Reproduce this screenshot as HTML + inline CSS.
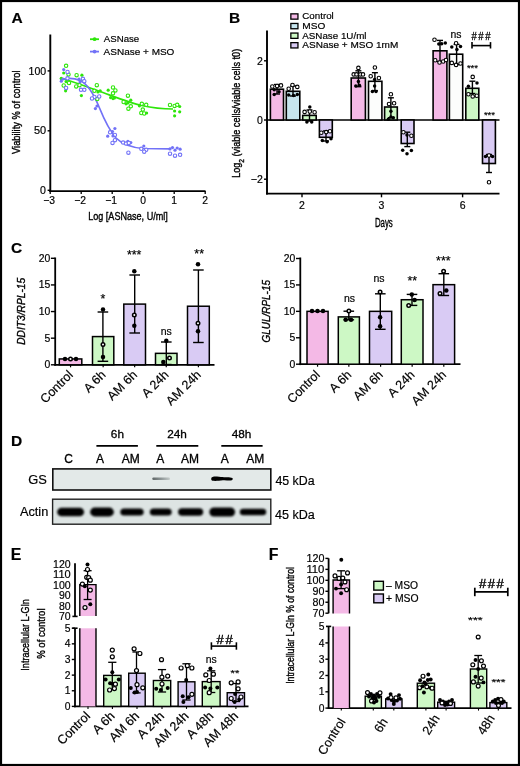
<!DOCTYPE html>
<html><head><meta charset="utf-8"><style>
html,body{margin:0;padding:0;background:#fff;}
body{width:520px;height:766px;overflow:hidden;}
svg{display:block;will-change:transform;}
text{font-family:"Liberation Sans", sans-serif;stroke:#000;stroke-width:0.18px;}
</style></head><body>
<svg width="520" height="766" viewBox="0 0 520 766">
<rect x="0" y="0" width="520" height="766" fill="#fff"/>
<text x="11.4" y="23.4" font-size="15.5" font-weight="bold">A</text>
<line x1="50.3" y1="34.5" x2="50.3" y2="192" stroke="#000" stroke-width="1.9"/>
<line x1="49.4" y1="191.1" x2="205.5" y2="191.1" stroke="#000" stroke-width="1.9"/>
<line x1="50.2" y1="191" x2="50.2" y2="194" stroke="#000" stroke-width="1.3"/>
<text x="49" y="203.8" font-size="10.3" text-anchor="middle">−3</text>
<line x1="81.2" y1="191" x2="81.2" y2="194" stroke="#000" stroke-width="1.3"/>
<text x="80" y="203.8" font-size="10.3" text-anchor="middle">−2</text>
<line x1="112.2" y1="191" x2="112.2" y2="194" stroke="#000" stroke-width="1.3"/>
<text x="111" y="203.8" font-size="10.3" text-anchor="middle">−1</text>
<line x1="143.2" y1="191" x2="143.2" y2="194" stroke="#000" stroke-width="1.3"/>
<text x="143.2" y="203.8" font-size="10.3" text-anchor="middle">0</text>
<line x1="174.2" y1="191" x2="174.2" y2="194" stroke="#000" stroke-width="1.3"/>
<text x="174.2" y="203.8" font-size="10.3" text-anchor="middle">1</text>
<line x1="205.2" y1="191" x2="205.2" y2="194" stroke="#000" stroke-width="1.3"/>
<text x="205.2" y="203.8" font-size="10.3" text-anchor="middle">2</text>
<line x1="47.6" y1="70.9" x2="50.3" y2="70.9" stroke="#000" stroke-width="1.4"/>
<text x="46.2" y="74.5" font-size="10.4" text-anchor="end" textLength="17.6" lengthAdjust="spacingAndGlyphs">100</text>
<line x1="47.6" y1="130.8" x2="50.3" y2="130.8" stroke="#000" stroke-width="1.4"/>
<text x="46.2" y="134.4" font-size="10.4" text-anchor="end" textLength="12.2" lengthAdjust="spacingAndGlyphs">50</text>
<line x1="47.6" y1="190.3" x2="50.3" y2="190.3" stroke="#000" stroke-width="1.4"/>
<text x="46" y="193.9" font-size="10.4" text-anchor="end" textLength="5.9" lengthAdjust="spacingAndGlyphs">0</text>
<text x="20" y="112.2" font-size="11.4" text-anchor="middle" textLength="83.5" lengthAdjust="spacingAndGlyphs" transform="rotate(-90 20 112.2)" style="stroke-width:0.38px">Viability % of control</text>
<text x="128" y="219.6" font-size="11.6" text-anchor="middle" textLength="79.6" lengthAdjust="spacingAndGlyphs" style="stroke-width:0.38px">Log [ASNase, U/ml]</text>
<line x1="90" y1="39.2" x2="99" y2="39.2" stroke="#2ee60a" stroke-width="1.8"/>
<circle cx="94.6" cy="39.2" r="1.9" fill="#2ee60a"/>
<line x1="90" y1="51.6" x2="99" y2="51.6" stroke="#7272f7" stroke-width="1.8"/>
<circle cx="94.6" cy="51.6" r="1.9" fill="#7272f7"/>
<text x="103.8" y="41.9" font-size="9.5" textLength="35.4" lengthAdjust="spacingAndGlyphs">ASNase</text>
<text x="103.6" y="54.5" font-size="9.5" textLength="70.8" lengthAdjust="spacingAndGlyphs">ASNase + MSO</text>
<path d="M60,78 C75,82 90,88 100,91.5 S130,103 141.5,105.5 S165,109 173,109" stroke="#2ee60a" stroke-width="1.7" fill="none"/>
<path d="M60,80 C66,78 74,78 80,80.5 C87,83.5 93,92 99.5,108 C104,119 109,130 116,138 C123,145 132,147.5 143,148.5 L170,148.9" stroke="#7272f7" stroke-width="1.7" fill="none"/>
<circle cx="66.1" cy="65.8" r="1.7" fill="#fff" stroke="#2ee60a" stroke-width="1.1"/>
<circle cx="63.7" cy="73" r="1.6" fill="#2ee60a"/>
<circle cx="68.5" cy="74.4" r="1.7" fill="#fff" stroke="#2ee60a" stroke-width="1.1"/>
<circle cx="61.3" cy="78.3" r="1.6" fill="#2ee60a"/>
<circle cx="66.1" cy="81.6" r="1.6" fill="#2ee60a"/>
<circle cx="63.7" cy="85.5" r="1.7" fill="#fff" stroke="#2ee60a" stroke-width="1.1"/>
<circle cx="65.6" cy="90.8" r="1.6" fill="#2ee60a"/>
<circle cx="69" cy="83" r="1.7" fill="#fff" stroke="#2ee60a" stroke-width="1.1"/>
<circle cx="76.6" cy="75.2" r="1.7" fill="#fff" stroke="#2ee60a" stroke-width="1.1"/>
<circle cx="81.9" cy="75.2" r="1.6" fill="#2ee60a"/>
<circle cx="76.2" cy="86.4" r="1.7" fill="#fff" stroke="#2ee60a" stroke-width="1.1"/>
<circle cx="79.5" cy="85.2" r="1.7" fill="#fff" stroke="#2ee60a" stroke-width="1.1"/>
<circle cx="81.4" cy="95.6" r="1.6" fill="#2ee60a"/>
<circle cx="83" cy="80" r="1.6" fill="#2ee60a"/>
<circle cx="96.8" cy="85.2" r="1.7" fill="#fff" stroke="#2ee60a" stroke-width="1.1"/>
<circle cx="94.4" cy="90.8" r="1.7" fill="#fff" stroke="#2ee60a" stroke-width="1.1"/>
<circle cx="100.2" cy="90.8" r="1.6" fill="#2ee60a"/>
<circle cx="97.3" cy="99" r="1.7" fill="#fff" stroke="#2ee60a" stroke-width="1.1"/>
<circle cx="98" cy="92" r="1.6" fill="#2ee60a"/>
<circle cx="108.2" cy="90.2" r="1.6" fill="#2ee60a"/>
<circle cx="113" cy="87.5" r="1.7" fill="#fff" stroke="#2ee60a" stroke-width="1.1"/>
<circle cx="115.4" cy="90.4" r="1.7" fill="#fff" stroke="#2ee60a" stroke-width="1.1"/>
<circle cx="113" cy="93.3" r="1.7" fill="#fff" stroke="#2ee60a" stroke-width="1.1"/>
<circle cx="110.6" cy="97.6" r="1.6" fill="#2ee60a"/>
<circle cx="113" cy="98.6" r="1.6" fill="#2ee60a"/>
<circle cx="114.4" cy="98" r="1.6" fill="#2ee60a"/>
<circle cx="127.9" cy="95.7" r="1.7" fill="#fff" stroke="#2ee60a" stroke-width="1.1"/>
<circle cx="130.8" cy="100.2" r="1.6" fill="#2ee60a"/>
<circle cx="123.6" cy="102" r="1.7" fill="#fff" stroke="#2ee60a" stroke-width="1.1"/>
<circle cx="126" cy="103.8" r="1.6" fill="#2ee60a"/>
<circle cx="127.9" cy="102.9" r="1.6" fill="#2ee60a"/>
<circle cx="130.8" cy="106.3" r="1.7" fill="#fff" stroke="#2ee60a" stroke-width="1.1"/>
<circle cx="128.4" cy="108.7" r="1.7" fill="#fff" stroke="#2ee60a" stroke-width="1.1"/>
<circle cx="141.8" cy="103.8" r="1.7" fill="#fff" stroke="#2ee60a" stroke-width="1.1"/>
<circle cx="146.2" cy="104.8" r="1.7" fill="#fff" stroke="#2ee60a" stroke-width="1.1"/>
<circle cx="139.4" cy="105.8" r="1.6" fill="#2ee60a"/>
<circle cx="142.8" cy="109.6" r="1.7" fill="#fff" stroke="#2ee60a" stroke-width="1.1"/>
<circle cx="141.3" cy="113" r="1.7" fill="#fff" stroke="#2ee60a" stroke-width="1.1"/>
<circle cx="144.2" cy="113.5" r="1.7" fill="#fff" stroke="#2ee60a" stroke-width="1.1"/>
<circle cx="146.6" cy="113" r="1.6" fill="#2ee60a"/>
<circle cx="170" cy="105" r="1.7" fill="#fff" stroke="#2ee60a" stroke-width="1.1"/>
<circle cx="174.6" cy="105.9" r="1.7" fill="#fff" stroke="#2ee60a" stroke-width="1.1"/>
<circle cx="177.2" cy="104.8" r="1.7" fill="#fff" stroke="#2ee60a" stroke-width="1.1"/>
<circle cx="179.7" cy="106.5" r="1.6" fill="#2ee60a"/>
<circle cx="174.6" cy="111" r="1.6" fill="#2ee60a"/>
<circle cx="179.7" cy="111.8" r="1.6" fill="#2ee60a"/>
<circle cx="174.6" cy="115.8" r="1.6" fill="#2ee60a"/>
<circle cx="63.7" cy="69.6" r="1.6" fill="#7272f7"/>
<circle cx="67.5" cy="72" r="1.7" fill="#fff" stroke="#7272f7" stroke-width="1.1"/>
<circle cx="67.5" cy="78.3" r="1.7" fill="#fff" stroke="#7272f7" stroke-width="1.1"/>
<circle cx="61.3" cy="81.2" r="1.6" fill="#7272f7"/>
<circle cx="66.1" cy="87.9" r="1.7" fill="#fff" stroke="#7272f7" stroke-width="1.1"/>
<circle cx="63" cy="79" r="1.6" fill="#7272f7"/>
<circle cx="79" cy="79.2" r="1.6" fill="#7272f7"/>
<circle cx="82.9" cy="78.8" r="1.7" fill="#fff" stroke="#7272f7" stroke-width="1.1"/>
<circle cx="84.3" cy="81.2" r="1.7" fill="#fff" stroke="#7272f7" stroke-width="1.1"/>
<circle cx="81" cy="89.8" r="1.7" fill="#fff" stroke="#7272f7" stroke-width="1.1"/>
<circle cx="84.3" cy="89.8" r="1.7" fill="#fff" stroke="#7272f7" stroke-width="1.1"/>
<circle cx="80" cy="82" r="1.6" fill="#7272f7"/>
<circle cx="94.4" cy="97" r="1.7" fill="#fff" stroke="#7272f7" stroke-width="1.1"/>
<circle cx="99.2" cy="96.5" r="1.7" fill="#fff" stroke="#7272f7" stroke-width="1.1"/>
<circle cx="92" cy="98.5" r="1.7" fill="#fff" stroke="#7272f7" stroke-width="1.1"/>
<circle cx="95.4" cy="108.6" r="1.6" fill="#7272f7"/>
<circle cx="97" cy="106" r="1.6" fill="#7272f7"/>
<circle cx="114.9" cy="128.5" r="1.6" fill="#7272f7"/>
<circle cx="110.1" cy="132.3" r="1.7" fill="#fff" stroke="#7272f7" stroke-width="1.1"/>
<circle cx="112.5" cy="131.5" r="1.6" fill="#7272f7"/>
<circle cx="114.9" cy="134.9" r="1.7" fill="#fff" stroke="#7272f7" stroke-width="1.1"/>
<circle cx="107.7" cy="136.2" r="1.6" fill="#7272f7"/>
<circle cx="113" cy="135.9" r="1.6" fill="#7272f7"/>
<circle cx="114.9" cy="140.2" r="1.7" fill="#fff" stroke="#7272f7" stroke-width="1.1"/>
<circle cx="112.5" cy="142.9" r="1.7" fill="#fff" stroke="#7272f7" stroke-width="1.1"/>
<circle cx="123.1" cy="142.6" r="1.7" fill="#fff" stroke="#7272f7" stroke-width="1.1"/>
<circle cx="127.9" cy="141.3" r="1.6" fill="#7272f7"/>
<circle cx="130.8" cy="142.6" r="1.6" fill="#7272f7"/>
<circle cx="126" cy="143.6" r="1.7" fill="#fff" stroke="#7272f7" stroke-width="1.1"/>
<circle cx="128.8" cy="143" r="1.7" fill="#fff" stroke="#7272f7" stroke-width="1.1"/>
<circle cx="128.4" cy="152.7" r="1.7" fill="#fff" stroke="#7272f7" stroke-width="1.1"/>
<circle cx="143.8" cy="146" r="1.6" fill="#7272f7"/>
<circle cx="141.3" cy="148.8" r="1.7" fill="#fff" stroke="#7272f7" stroke-width="1.1"/>
<circle cx="146.2" cy="149.8" r="1.7" fill="#fff" stroke="#7272f7" stroke-width="1.1"/>
<circle cx="144.2" cy="151.7" r="1.7" fill="#fff" stroke="#7272f7" stroke-width="1.1"/>
<circle cx="170" cy="148.9" r="1.6" fill="#7272f7"/>
<circle cx="172.5" cy="147.6" r="1.6" fill="#7272f7"/>
<circle cx="175" cy="150.2" r="1.6" fill="#7272f7"/>
<circle cx="177.2" cy="148" r="1.6" fill="#7272f7"/>
<circle cx="180.1" cy="149.2" r="1.6" fill="#7272f7"/>
<circle cx="170" cy="153.7" r="1.7" fill="#fff" stroke="#7272f7" stroke-width="1.1"/>
<circle cx="175" cy="155.7" r="1.7" fill="#fff" stroke="#7272f7" stroke-width="1.1"/>
<circle cx="180.1" cy="154.8" r="1.7" fill="#fff" stroke="#7272f7" stroke-width="1.1"/>
<text x="228.9" y="23.3" font-size="15.5" font-weight="bold">B</text>
<line x1="267" y1="30.5" x2="267" y2="194.5" stroke="#000" stroke-width="1.9"/>
<line x1="266" y1="193.6" x2="499.5" y2="193.6" stroke="#000" stroke-width="1.9"/>
<line x1="267" y1="120" x2="499.5" y2="120" stroke="#000" stroke-width="1.7"/>
<line x1="264" y1="60.8" x2="267" y2="60.8" stroke="#000" stroke-width="1.4"/>
<text x="262.8" y="64.7" font-size="10.5" text-anchor="end">2</text>
<line x1="264" y1="120" x2="267" y2="120" stroke="#000" stroke-width="1.4"/>
<text x="262.8" y="123.9" font-size="10.5" text-anchor="end">0</text>
<line x1="264" y1="179.2" x2="267" y2="179.2" stroke="#000" stroke-width="1.4"/>
<text x="262.8" y="183.1" font-size="10.5" text-anchor="end">−2</text>
<line x1="302" y1="193.6" x2="302" y2="197.3" stroke="#000" stroke-width="1.4"/>
<text x="302" y="209.1" font-size="10.5" text-anchor="middle">2</text>
<line x1="381.5" y1="193.6" x2="381.5" y2="197.3" stroke="#000" stroke-width="1.4"/>
<text x="381.5" y="209.1" font-size="10.5" text-anchor="middle">3</text>
<line x1="462.6" y1="193.6" x2="462.6" y2="197.3" stroke="#000" stroke-width="1.4"/>
<text x="462.6" y="209.1" font-size="10.5" text-anchor="middle">6</text>
<text x="383.8" y="226.7" font-size="12" text-anchor="middle" textLength="17.8" lengthAdjust="spacingAndGlyphs" style="stroke-width:0.38px">Days</text>
<text x="240" y="113.3" font-size="10.4" text-anchor="middle" transform="rotate(-90 240 113.3)" textLength="129" lengthAdjust="spacingAndGlyphs" style="stroke-width:0.38px">Log<tspan font-size="7.5" dy="4.2">2</tspan><tspan dy="-4.2"> (viable cells/viable cells t0)</tspan></text>
<rect x="290.85" y="13.85" width="7.1" height="5.3" fill="#f4b9e6" stroke="#000" stroke-width="1.3"/>
<text x="302.3" y="19.3" font-size="9.3" textLength="31.5" lengthAdjust="spacingAndGlyphs">Control</text>
<rect x="290.85" y="23.45" width="7.1" height="5.3" fill="#c7e5ee" stroke="#000" stroke-width="1.3"/>
<text x="302.3" y="28.9" font-size="9.3" textLength="23" lengthAdjust="spacingAndGlyphs">MSO</text>
<rect x="290.85" y="33.05" width="7.1" height="5.3" fill="#cdf8c5" stroke="#000" stroke-width="1.3"/>
<text x="302.3" y="38.5" font-size="9.3" textLength="64.2" lengthAdjust="spacingAndGlyphs">ASNase 1U/ml</text>
<rect x="290.85" y="42.65" width="7.1" height="5.3" fill="#d9cbf4" stroke="#000" stroke-width="1.3"/>
<text x="302.3" y="48.1" font-size="9.3" textLength="96" lengthAdjust="spacingAndGlyphs">ASNase + MSO 1mM</text>
<rect x="270.4" y="89.2" width="13.1" height="30.8" fill="#f4b9e6" stroke="#000" stroke-width="1.6"/>
<rect x="286.3" y="91.3" width="13.5" height="28.7" fill="#c7e5ee" stroke="#000" stroke-width="1.6"/>
<rect x="302.7" y="115.4" width="13.5" height="4.6" fill="#cdf8c5" stroke="#000" stroke-width="1.6"/>
<rect x="319.4" y="120" width="12.9" height="17.3" fill="#d9cbf4" stroke="#000" stroke-width="1.6"/>
<rect x="351.2" y="78" width="14.2" height="42" fill="#f4b9e6" stroke="#000" stroke-width="1.6"/>
<rect x="368.5" y="81.3" width="13.4" height="38.7" fill="#fcfdfc" stroke="#000" stroke-width="1.6"/>
<rect x="384.6" y="107" width="12.7" height="13" fill="#cdf8c5" stroke="#000" stroke-width="1.6"/>
<rect x="401.2" y="120" width="12.8" height="23.5" fill="#d9cbf4" stroke="#000" stroke-width="1.6"/>
<rect x="433.1" y="50.8" width="13.8" height="69.2" fill="#f4b9e6" stroke="#000" stroke-width="1.6"/>
<rect x="449.4" y="54.2" width="13.3" height="65.8" fill="#fcfdfc" stroke="#000" stroke-width="1.6"/>
<rect x="465.8" y="88.3" width="13" height="31.7" fill="#cdf8c5" stroke="#000" stroke-width="1.6"/>
<rect x="482.5" y="120" width="12.9" height="43.5" fill="#d9cbf4" stroke="#000" stroke-width="1.6"/>
<line x1="277" y1="84.5" x2="277" y2="94" stroke="#000" stroke-width="1.4"/>
<line x1="274" y1="84.5" x2="280" y2="84.5" stroke="#000" stroke-width="1.4"/>
<line x1="274" y1="94" x2="280" y2="94" stroke="#000" stroke-width="1.4"/>
<line x1="293" y1="86" x2="293" y2="96" stroke="#000" stroke-width="1.4"/>
<line x1="290" y1="86" x2="296" y2="86" stroke="#000" stroke-width="1.4"/>
<line x1="290" y1="96" x2="296" y2="96" stroke="#000" stroke-width="1.4"/>
<line x1="309.5" y1="110" x2="309.5" y2="121" stroke="#000" stroke-width="1.4"/>
<line x1="306.5" y1="110" x2="312.5" y2="110" stroke="#000" stroke-width="1.4"/>
<line x1="306.5" y1="121" x2="312.5" y2="121" stroke="#000" stroke-width="1.4"/>
<line x1="326" y1="131" x2="326" y2="141" stroke="#000" stroke-width="1.4"/>
<line x1="323" y1="131" x2="329" y2="131" stroke="#000" stroke-width="1.4"/>
<line x1="323" y1="141" x2="329" y2="141" stroke="#000" stroke-width="1.4"/>
<line x1="358.4" y1="70.8" x2="358.4" y2="86.7" stroke="#000" stroke-width="1.4"/>
<line x1="355.4" y1="70.8" x2="361.4" y2="70.8" stroke="#000" stroke-width="1.4"/>
<line x1="355.4" y1="86.7" x2="361.4" y2="86.7" stroke="#000" stroke-width="1.4"/>
<line x1="374.9" y1="72.7" x2="374.9" y2="90.6" stroke="#000" stroke-width="1.4"/>
<line x1="371.9" y1="72.7" x2="377.9" y2="72.7" stroke="#000" stroke-width="1.4"/>
<line x1="371.9" y1="90.6" x2="377.9" y2="90.6" stroke="#000" stroke-width="1.4"/>
<line x1="390.9" y1="97.8" x2="390.9" y2="117.7" stroke="#000" stroke-width="1.4"/>
<line x1="387.9" y1="97.8" x2="393.9" y2="97.8" stroke="#000" stroke-width="1.4"/>
<line x1="387.9" y1="117.7" x2="393.9" y2="117.7" stroke="#000" stroke-width="1.4"/>
<line x1="407.3" y1="132.2" x2="407.3" y2="146.6" stroke="#000" stroke-width="1.4"/>
<line x1="404.3" y1="132.2" x2="410.3" y2="132.2" stroke="#000" stroke-width="1.4"/>
<line x1="404.3" y1="146.6" x2="410.3" y2="146.6" stroke="#000" stroke-width="1.4"/>
<line x1="440" y1="40.4" x2="440" y2="61.5" stroke="#000" stroke-width="1.4"/>
<line x1="437" y1="40.4" x2="443" y2="40.4" stroke="#000" stroke-width="1.4"/>
<line x1="437" y1="61.5" x2="443" y2="61.5" stroke="#000" stroke-width="1.4"/>
<line x1="456.6" y1="44.4" x2="456.6" y2="64.6" stroke="#000" stroke-width="1.4"/>
<line x1="453.6" y1="44.4" x2="459.6" y2="44.4" stroke="#000" stroke-width="1.4"/>
<line x1="453.6" y1="64.6" x2="459.6" y2="64.6" stroke="#000" stroke-width="1.4"/>
<line x1="472.4" y1="81.2" x2="472.4" y2="93.5" stroke="#000" stroke-width="1.4"/>
<line x1="469.4" y1="81.2" x2="475.4" y2="81.2" stroke="#000" stroke-width="1.4"/>
<line x1="469.4" y1="93.5" x2="475.4" y2="93.5" stroke="#000" stroke-width="1.4"/>
<line x1="489" y1="154.5" x2="489" y2="172.5" stroke="#000" stroke-width="1.4"/>
<line x1="486" y1="154.5" x2="492" y2="154.5" stroke="#000" stroke-width="1.4"/>
<line x1="486" y1="172.5" x2="492" y2="172.5" stroke="#000" stroke-width="1.4"/>
<circle cx="272.3" cy="86.5" r="1.75" fill="#fff" stroke="#000" stroke-width="1.1"/>
<circle cx="277.1" cy="86" r="1.75" fill="#fff" stroke="#000" stroke-width="1.1"/>
<circle cx="281" cy="85.4" r="1.75" fill="#fff" stroke="#000" stroke-width="1.1"/>
<circle cx="274.2" cy="89.8" r="1.75" fill="#000"/>
<circle cx="279" cy="91.7" r="1.75" fill="#000"/>
<circle cx="274.2" cy="94.6" r="1.75" fill="#000"/>
<circle cx="288.7" cy="88.8" r="1.75" fill="#fff" stroke="#000" stroke-width="1.1"/>
<circle cx="292.5" cy="85" r="1.75" fill="#fff" stroke="#000" stroke-width="1.1"/>
<circle cx="297.3" cy="86.9" r="1.75" fill="#fff" stroke="#000" stroke-width="1.1"/>
<circle cx="288.7" cy="95" r="1.75" fill="#000"/>
<circle cx="293.5" cy="95.6" r="1.75" fill="#000"/>
<circle cx="297.3" cy="94.6" r="1.75" fill="#000"/>
<circle cx="304.6" cy="111.9" r="1.75" fill="#fff" stroke="#000" stroke-width="1.1"/>
<circle cx="309.8" cy="111.5" r="1.75" fill="#fff" stroke="#000" stroke-width="1.1"/>
<circle cx="314.6" cy="112.3" r="1.75" fill="#fff" stroke="#000" stroke-width="1.1"/>
<circle cx="309.8" cy="107.1" r="1.75" fill="#000"/>
<circle cx="306.9" cy="121.9" r="1.75" fill="#000"/>
<circle cx="311.7" cy="121.9" r="1.75" fill="#000"/>
<circle cx="321.3" cy="132.7" r="1.75" fill="#fff" stroke="#000" stroke-width="1.1"/>
<circle cx="326.2" cy="132.1" r="1.75" fill="#fff" stroke="#000" stroke-width="1.1"/>
<circle cx="330" cy="131.2" r="1.75" fill="#fff" stroke="#000" stroke-width="1.1"/>
<circle cx="322.3" cy="140.4" r="1.75" fill="#000"/>
<circle cx="327.1" cy="141.7" r="1.75" fill="#000"/>
<circle cx="331" cy="138.8" r="1.75" fill="#000"/>
<circle cx="358.4" cy="67.9" r="1.75" fill="#fff" stroke="#000" stroke-width="1.1"/>
<circle cx="353.7" cy="74.4" r="1.75" fill="#fff" stroke="#000" stroke-width="1.1"/>
<circle cx="356.5" cy="74.4" r="1.75" fill="#fff" stroke="#000" stroke-width="1.1"/>
<circle cx="360.4" cy="74.4" r="1.75" fill="#fff" stroke="#000" stroke-width="1.1"/>
<circle cx="363" cy="74.4" r="1.75" fill="#fff" stroke="#000" stroke-width="1.1"/>
<circle cx="358.4" cy="81.4" r="1.75" fill="#000"/>
<circle cx="355.8" cy="86" r="1.75" fill="#000"/>
<circle cx="359.4" cy="85.3" r="1.75" fill="#000"/>
<circle cx="374.9" cy="67.5" r="1.75" fill="#fff" stroke="#000" stroke-width="1.1"/>
<circle cx="370.7" cy="76.2" r="1.75" fill="#fff" stroke="#000" stroke-width="1.1"/>
<circle cx="378.9" cy="78" r="1.75" fill="#fff" stroke="#000" stroke-width="1.1"/>
<circle cx="374.6" cy="79.5" r="1.75" fill="#000"/>
<circle cx="374.6" cy="86" r="1.75" fill="#000"/>
<circle cx="372.4" cy="91.5" r="1.75" fill="#000"/>
<circle cx="376" cy="91.5" r="1.75" fill="#000"/>
<circle cx="390.9" cy="94.3" r="1.75" fill="#fff" stroke="#000" stroke-width="1.1"/>
<circle cx="389" cy="104" r="1.75" fill="#fff" stroke="#000" stroke-width="1.1"/>
<circle cx="394.1" cy="103.3" r="1.75" fill="#fff" stroke="#000" stroke-width="1.1"/>
<circle cx="390.9" cy="111.2" r="1.75" fill="#000"/>
<circle cx="390.9" cy="117" r="1.75" fill="#000"/>
<circle cx="388.3" cy="119.2" r="1.75" fill="#000"/>
<circle cx="393.3" cy="117.7" r="1.75" fill="#000"/>
<circle cx="403.4" cy="132.2" r="1.75" fill="#fff" stroke="#000" stroke-width="1.1"/>
<circle cx="411.4" cy="135.8" r="1.75" fill="#fff" stroke="#000" stroke-width="1.1"/>
<circle cx="407" cy="135" r="1.75" fill="#000"/>
<circle cx="402.7" cy="150.2" r="1.75" fill="#000"/>
<circle cx="407" cy="153.8" r="1.75" fill="#000"/>
<circle cx="411.4" cy="150.6" r="1.75" fill="#000"/>
<circle cx="434.5" cy="39.8" r="1.75" fill="#fff" stroke="#000" stroke-width="1.1"/>
<circle cx="438.8" cy="44.1" r="1.75" fill="#000"/>
<circle cx="441.7" cy="43.7" r="1.75" fill="#000"/>
<circle cx="445.3" cy="43" r="1.75" fill="#000"/>
<circle cx="435.2" cy="60.3" r="1.75" fill="#fff" stroke="#000" stroke-width="1.1"/>
<circle cx="439.5" cy="62.5" r="1.75" fill="#fff" stroke="#000" stroke-width="1.1"/>
<circle cx="443.2" cy="61.5" r="1.75" fill="#fff" stroke="#000" stroke-width="1.1"/>
<circle cx="446" cy="60" r="1.75" fill="#fff" stroke="#000" stroke-width="1.1"/>
<circle cx="456.1" cy="43.3" r="1.75" fill="#fff" stroke="#000" stroke-width="1.1"/>
<circle cx="451.8" cy="47" r="1.75" fill="#000"/>
<circle cx="460.5" cy="46.6" r="1.75" fill="#000"/>
<circle cx="456.9" cy="49.5" r="1.75" fill="#000"/>
<circle cx="451.8" cy="62.9" r="1.75" fill="#fff" stroke="#000" stroke-width="1.1"/>
<circle cx="456.1" cy="64.9" r="1.75" fill="#fff" stroke="#000" stroke-width="1.1"/>
<circle cx="460.5" cy="63.5" r="1.75" fill="#fff" stroke="#000" stroke-width="1.1"/>
<circle cx="472.7" cy="76.9" r="1.75" fill="#fff" stroke="#000" stroke-width="1.1"/>
<circle cx="468.4" cy="86.3" r="1.75" fill="#000"/>
<circle cx="477" cy="83.1" r="1.75" fill="#000"/>
<circle cx="468.4" cy="94.2" r="1.75" fill="#fff" stroke="#000" stroke-width="1.1"/>
<circle cx="472.7" cy="96.4" r="1.75" fill="#fff" stroke="#000" stroke-width="1.1"/>
<circle cx="476.8" cy="95.7" r="1.75" fill="#fff" stroke="#000" stroke-width="1.1"/>
<circle cx="485.5" cy="156.5" r="1.75" fill="#000"/>
<circle cx="489" cy="155.5" r="1.75" fill="#fff" stroke="#000" stroke-width="1.1"/>
<circle cx="492.5" cy="156.5" r="1.75" fill="#000"/>
<circle cx="489" cy="182.3" r="1.75" fill="#fff" stroke="#000" stroke-width="1.1"/>
<text x="456" y="37.7" font-size="10.5" text-anchor="middle" textLength="11" lengthAdjust="spacingAndGlyphs">ns</text>
<text x="474.1" y="39.9" font-size="11" text-anchor="middle" textLength="5.3" lengthAdjust="spacingAndGlyphs" style="stroke-width:0.3px">#</text>
<text x="480.8" y="39.9" font-size="11" text-anchor="middle" textLength="5.3" lengthAdjust="spacingAndGlyphs" style="stroke-width:0.3px">#</text>
<text x="487.9" y="39.9" font-size="11" text-anchor="middle" textLength="5.3" lengthAdjust="spacingAndGlyphs" style="stroke-width:0.3px">#</text>
<line x1="472" y1="45.6" x2="490.5" y2="45.6" stroke="#000" stroke-width="1.6"/>
<line x1="472" y1="42.1" x2="472" y2="48.5" stroke="#000" stroke-width="1.6"/>
<line x1="490.5" y1="42.1" x2="490.5" y2="48.5" stroke="#000" stroke-width="1.6"/>
<text x="472.4" y="70.5" font-size="9.5" text-anchor="middle" textLength="11" lengthAdjust="spacingAndGlyphs">***</text>
<text x="489.4" y="118" font-size="9.5" text-anchor="middle" textLength="11" lengthAdjust="spacingAndGlyphs">***</text>
<text x="10.9" y="252.8" font-size="15.5" font-weight="bold">C</text>
<line x1="55.2" y1="257.5" x2="55.2" y2="365.7" stroke="#000" stroke-width="1.8"/>
<line x1="54.3" y1="364.8" x2="214.5" y2="364.8" stroke="#000" stroke-width="1.8"/>
<line x1="50.9" y1="364.8" x2="55.2" y2="364.8" stroke="#000" stroke-width="1.4"/>
<text x="50.3" y="368.3" font-size="10.4" text-anchor="end">0</text>
<line x1="50.9" y1="338.18" x2="55.2" y2="338.18" stroke="#000" stroke-width="1.4"/>
<text x="50.3" y="341.68" font-size="10.4" text-anchor="end">5</text>
<line x1="50.9" y1="311.55" x2="55.2" y2="311.55" stroke="#000" stroke-width="1.4"/>
<text x="50.3" y="315.05" font-size="10.4" text-anchor="end">10</text>
<line x1="50.9" y1="284.93" x2="55.2" y2="284.93" stroke="#000" stroke-width="1.4"/>
<text x="50.3" y="288.43" font-size="10.4" text-anchor="end">15</text>
<line x1="50.9" y1="258.3" x2="55.2" y2="258.3" stroke="#000" stroke-width="1.4"/>
<text x="50.3" y="261.8" font-size="10.4" text-anchor="end">20</text>
<rect x="59.3" y="358.94" width="22.5" height="5.86" fill="#f4b9e6" stroke="#000" stroke-width="1.5"/>
<line x1="70.55" y1="364.8" x2="70.55" y2="367.3" stroke="#000" stroke-width="1.2"/>
<rect x="92.5" y="336.58" width="21.3" height="28.22" fill="#cdf8c5" stroke="#000" stroke-width="1.5"/>
<line x1="103.15" y1="364.8" x2="103.15" y2="367.3" stroke="#000" stroke-width="1.2"/>
<rect x="123.8" y="304.1" width="21.7" height="60.71" fill="#d9cbf4" stroke="#000" stroke-width="1.5"/>
<line x1="134.65" y1="364.8" x2="134.65" y2="367.3" stroke="#000" stroke-width="1.2"/>
<rect x="155.5" y="353.35" width="21.5" height="11.45" fill="#cdf8c5" stroke="#000" stroke-width="1.5"/>
<line x1="166.25" y1="364.8" x2="166.25" y2="367.3" stroke="#000" stroke-width="1.2"/>
<rect x="187.5" y="306.23" width="21.8" height="58.58" fill="#d9cbf4" stroke="#000" stroke-width="1.5"/>
<line x1="198.4" y1="364.8" x2="198.4" y2="367.3" stroke="#000" stroke-width="1.2"/>
<line x1="102.9" y1="312" x2="102.9" y2="361.3" stroke="#000" stroke-width="1.4"/>
<line x1="97.6" y1="312" x2="108.2" y2="312" stroke="#000" stroke-width="1.4"/>
<line x1="97.6" y1="361.3" x2="108.2" y2="361.3" stroke="#000" stroke-width="1.4"/>
<line x1="134.7" y1="275" x2="134.7" y2="333" stroke="#000" stroke-width="1.4"/>
<line x1="129.4" y1="275" x2="140" y2="275" stroke="#000" stroke-width="1.4"/>
<line x1="129.4" y1="333" x2="140" y2="333" stroke="#000" stroke-width="1.4"/>
<line x1="166.3" y1="342" x2="166.3" y2="364.5" stroke="#000" stroke-width="1.4"/>
<line x1="161" y1="342" x2="171.6" y2="342" stroke="#000" stroke-width="1.4"/>
<line x1="161" y1="364.5" x2="171.6" y2="364.5" stroke="#000" stroke-width="1.4"/>
<line x1="198.4" y1="270" x2="198.4" y2="342.5" stroke="#000" stroke-width="1.4"/>
<line x1="193.1" y1="270" x2="203.7" y2="270" stroke="#000" stroke-width="1.4"/>
<line x1="193.1" y1="342.5" x2="203.7" y2="342.5" stroke="#000" stroke-width="1.4"/>
<circle cx="65" cy="359" r="2.25" fill="#000"/>
<circle cx="70.5" cy="359" r="1.75" fill="#fff" stroke="#000" stroke-width="1.5"/>
<circle cx="76" cy="359" r="2.25" fill="#000"/>
<circle cx="103" cy="309.5" r="2.25" fill="#000"/>
<circle cx="103" cy="344.5" r="1.75" fill="#fff" stroke="#000" stroke-width="1.5"/>
<circle cx="103" cy="357" r="2.25" fill="#000"/>
<circle cx="134.3" cy="271.3" r="2.25" fill="#000"/>
<circle cx="134.3" cy="315" r="1.75" fill="#fff" stroke="#000" stroke-width="1.5"/>
<circle cx="134.3" cy="325.8" r="2.25" fill="#000"/>
<circle cx="166.3" cy="340.8" r="2.25" fill="#000"/>
<circle cx="163.3" cy="362" r="2.25" fill="#000"/>
<circle cx="169.5" cy="358" r="1.75" fill="#fff" stroke="#000" stroke-width="1.5"/>
<circle cx="198" cy="264.3" r="2.25" fill="#000"/>
<circle cx="198" cy="323.3" r="1.75" fill="#fff" stroke="#000" stroke-width="1.5"/>
<circle cx="198" cy="331.3" r="2.25" fill="#000"/>
<text x="73.75" y="375.5" font-size="12.5" text-anchor="end" transform="rotate(-45 73.75 375.5)">Control</text>
<text x="106.35" y="375.5" font-size="12.5" text-anchor="end" transform="rotate(-45 106.35 375.5)">A 6h</text>
<text x="137.85" y="375.5" font-size="12.5" text-anchor="end" transform="rotate(-45 137.85 375.5)">AM 6h</text>
<text x="169.45" y="375.5" font-size="12.5" text-anchor="end" transform="rotate(-45 169.45 375.5)">A 24h</text>
<text x="201.6" y="375.5" font-size="12.5" text-anchor="end" transform="rotate(-45 201.6 375.5)">AM 24h</text>
<text x="25.3" y="311.3" font-size="11.8" text-anchor="middle" font-style="italic" textLength="67" lengthAdjust="spacingAndGlyphs" transform="rotate(-90 25.3 311.3)" style="stroke-width:0.38px">DDIT3/RPL-15</text>
<text x="103" y="302.5" font-size="12.4" text-anchor="middle">*</text>
<text x="134.2" y="258.6" font-size="12.4" text-anchor="middle">***</text>
<text x="166.3" y="334.5" font-size="10.5" text-anchor="middle">ns</text>
<text x="199.2" y="258" font-size="12.4" text-anchor="middle">**</text>
<line x1="300.3" y1="257.5" x2="300.3" y2="365.1" stroke="#000" stroke-width="1.8"/>
<line x1="299.4" y1="364.2" x2="460.5" y2="364.2" stroke="#000" stroke-width="1.8"/>
<line x1="296" y1="364.2" x2="300.3" y2="364.2" stroke="#000" stroke-width="1.4"/>
<text x="295.4" y="367.7" font-size="10.4" text-anchor="end">0</text>
<line x1="296" y1="337.77" x2="300.3" y2="337.77" stroke="#000" stroke-width="1.4"/>
<text x="295.4" y="341.27" font-size="10.4" text-anchor="end">5</text>
<line x1="296" y1="311.35" x2="300.3" y2="311.35" stroke="#000" stroke-width="1.4"/>
<text x="295.4" y="314.85" font-size="10.4" text-anchor="end">10</text>
<line x1="296" y1="284.93" x2="300.3" y2="284.93" stroke="#000" stroke-width="1.4"/>
<text x="295.4" y="288.43" font-size="10.4" text-anchor="end">15</text>
<line x1="296" y1="258.5" x2="300.3" y2="258.5" stroke="#000" stroke-width="1.4"/>
<text x="295.4" y="262" font-size="10.4" text-anchor="end">20</text>
<rect x="307" y="311.35" width="21.1" height="52.85" fill="#f4b9e6" stroke="#000" stroke-width="1.5"/>
<line x1="317.55" y1="364.2" x2="317.55" y2="366.7" stroke="#000" stroke-width="1.2"/>
<rect x="338.3" y="316.9" width="21.1" height="47.3" fill="#cdf8c5" stroke="#000" stroke-width="1.5"/>
<line x1="348.85" y1="364.2" x2="348.85" y2="366.7" stroke="#000" stroke-width="1.2"/>
<rect x="369.5" y="311.35" width="22.2" height="52.85" fill="#d9cbf4" stroke="#000" stroke-width="1.5"/>
<line x1="380.6" y1="364.2" x2="380.6" y2="366.7" stroke="#000" stroke-width="1.2"/>
<rect x="401.3" y="299.72" width="21.7" height="64.48" fill="#cdf8c5" stroke="#000" stroke-width="1.5"/>
<line x1="412.15" y1="364.2" x2="412.15" y2="366.7" stroke="#000" stroke-width="1.2"/>
<rect x="433" y="284.66" width="21.6" height="79.54" fill="#d9cbf4" stroke="#000" stroke-width="1.5"/>
<line x1="443.8" y1="364.2" x2="443.8" y2="366.7" stroke="#000" stroke-width="1.2"/>
<line x1="348.8" y1="311.2" x2="348.8" y2="319.8" stroke="#000" stroke-width="1.4"/>
<line x1="343.5" y1="311.2" x2="354.1" y2="311.2" stroke="#000" stroke-width="1.4"/>
<line x1="343.5" y1="319.8" x2="354.1" y2="319.8" stroke="#000" stroke-width="1.4"/>
<line x1="380.3" y1="293.8" x2="380.3" y2="329.3" stroke="#000" stroke-width="1.4"/>
<line x1="375" y1="293.8" x2="385.6" y2="293.8" stroke="#000" stroke-width="1.4"/>
<line x1="375" y1="329.3" x2="385.6" y2="329.3" stroke="#000" stroke-width="1.4"/>
<line x1="412" y1="294.4" x2="412" y2="305.4" stroke="#000" stroke-width="1.4"/>
<line x1="406.7" y1="294.4" x2="417.3" y2="294.4" stroke="#000" stroke-width="1.4"/>
<line x1="406.7" y1="305.4" x2="417.3" y2="305.4" stroke="#000" stroke-width="1.4"/>
<line x1="443.8" y1="273.7" x2="443.8" y2="295.5" stroke="#000" stroke-width="1.4"/>
<line x1="438.5" y1="273.7" x2="449.1" y2="273.7" stroke="#000" stroke-width="1.4"/>
<line x1="438.5" y1="295.5" x2="449.1" y2="295.5" stroke="#000" stroke-width="1.4"/>
<circle cx="312" cy="311" r="2.25" fill="#000"/>
<circle cx="317.5" cy="311" r="2.25" fill="#000"/>
<circle cx="323" cy="311" r="2.25" fill="#000"/>
<circle cx="348.9" cy="310.9" r="1.75" fill="#fff" stroke="#000" stroke-width="1.5"/>
<circle cx="345.7" cy="319.8" r="2.25" fill="#000"/>
<circle cx="351" cy="319.8" r="2.25" fill="#000"/>
<circle cx="380.1" cy="291.9" r="1.75" fill="#fff" stroke="#000" stroke-width="1.5"/>
<circle cx="380.1" cy="317.3" r="2.25" fill="#000"/>
<circle cx="380.1" cy="326.2" r="2.25" fill="#000"/>
<circle cx="411.8" cy="294.4" r="2.25" fill="#000"/>
<circle cx="414.6" cy="300.1" r="2.25" fill="#000"/>
<circle cx="408.7" cy="305.4" r="1.75" fill="#fff" stroke="#000" stroke-width="1.5"/>
<circle cx="443.6" cy="271.2" r="1.75" fill="#fff" stroke="#000" stroke-width="1.5"/>
<circle cx="446.3" cy="290.6" r="2.25" fill="#000"/>
<circle cx="440" cy="293.4" r="1.75" fill="#fff" stroke="#000" stroke-width="1.5"/>
<text x="320.75" y="375.5" font-size="12.5" text-anchor="end" transform="rotate(-45 320.75 375.5)">Control</text>
<text x="352.05" y="375.5" font-size="12.5" text-anchor="end" transform="rotate(-45 352.05 375.5)">A 6h</text>
<text x="383.8" y="375.5" font-size="12.5" text-anchor="end" transform="rotate(-45 383.8 375.5)">AM 6h</text>
<text x="415.35" y="375.5" font-size="12.5" text-anchor="end" transform="rotate(-45 415.35 375.5)">A 24h</text>
<text x="447" y="375.5" font-size="12.5" text-anchor="end" transform="rotate(-45 447 375.5)">AM 24h</text>
<text x="269.8" y="311.3" font-size="11.8" text-anchor="middle" font-style="italic" textLength="62.5" lengthAdjust="spacingAndGlyphs" transform="rotate(-90 269.8 311.3)" style="stroke-width:0.38px">GLUL/RPL-15</text>
<text x="349.5" y="301.5" font-size="10.5" text-anchor="middle">ns</text>
<text x="379" y="282" font-size="10.5" text-anchor="middle">ns</text>
<text x="412.3" y="285" font-size="12.4" text-anchor="middle">**</text>
<text x="443.3" y="264.5" font-size="12.4" text-anchor="middle">***</text>
<text x="11" y="446.1" font-size="15.5" font-weight="bold">D</text>
<text x="117.4" y="438.4" font-size="11.8" text-anchor="middle" style="stroke-width:0.3px">6h</text>
<line x1="96.4" y1="445.9" x2="137.9" y2="445.9" stroke="#000" stroke-width="1.8"/>
<text x="177.1" y="438.4" font-size="11.8" text-anchor="middle" style="stroke-width:0.3px">24h</text>
<line x1="156.3" y1="445.9" x2="198.3" y2="445.9" stroke="#000" stroke-width="1.8"/>
<text x="241.5" y="438.4" font-size="11.8" text-anchor="middle" style="stroke-width:0.3px">48h</text>
<line x1="221.3" y1="445.9" x2="262.6" y2="445.9" stroke="#000" stroke-width="1.8"/>
<text x="68.5" y="462.6" font-size="12" text-anchor="middle" style="stroke-width:0.3px">C</text>
<text x="100.1" y="462.6" font-size="12" text-anchor="middle" style="stroke-width:0.3px">A</text>
<text x="130.7" y="462.6" font-size="12" text-anchor="middle" style="stroke-width:0.3px">AM</text>
<text x="160.2" y="462.6" font-size="12" text-anchor="middle" style="stroke-width:0.3px">A</text>
<text x="189.9" y="462.6" font-size="12" text-anchor="middle" style="stroke-width:0.3px">AM</text>
<text x="224.8" y="462.6" font-size="12" text-anchor="middle" style="stroke-width:0.3px">A</text>
<text x="255.3" y="462.6" font-size="12" text-anchor="middle" style="stroke-width:0.3px">AM</text>
<text x="37.6" y="484.2" font-size="12.9" text-anchor="middle">GS</text>
<text x="34.1" y="516.2" font-size="12.2" text-anchor="middle" textLength="28.4" lengthAdjust="spacingAndGlyphs">Actin</text>
<text x="275.4" y="484.6" font-size="12.3" textLength="39.2" lengthAdjust="spacingAndGlyphs">45 kDa</text>
<text x="275" y="519.3" font-size="12.3" textLength="39.8" lengthAdjust="spacingAndGlyphs">45 kDa</text>
<defs><filter id="bl" x="-50%" y="-50%" width="200%" height="200%"><feGaussianBlur stdDeviation="0.9"/></filter><filter id="bl2" x="-50%" y="-50%" width="200%" height="200%"><feGaussianBlur stdDeviation="0.6"/></filter></defs>
<rect x="52.8" y="468.9" width="218" height="21.1" fill="#e3e9e8" stroke="#111" stroke-width="1.6"/>
<rect x="52.6" y="499.2" width="218.2" height="25" fill="#dde4e3" stroke="#222" stroke-width="1.4"/>
<defs><linearGradient id="g24" x1="0" x2="1" y1="0" y2="0"><stop offset="0" stop-color="#5e6666"/><stop offset="0.5" stop-color="#8e9696"/><stop offset="1" stop-color="#c4cbca"/></linearGradient></defs>
<rect x="152.3" y="477.6" width="17.7" height="2.4" rx="1.2" fill="url(#g24)" filter="url(#bl2)"/>
<path d="M211.2,478.8 C211.2,476.6 214,476.5 217,476.6 C220,476.8 222,477.2 224,477.3 C227,477.1 230.5,477 232.4,478 C233.2,478.9 232.8,480.4 230.5,480.5 C228,480.6 225.5,480.1 223,480.3 C219,480.9 215,481.1 212.6,480.8 C211.5,480.4 211.2,479.7 211.2,478.8 Z" fill="#000" filter="url(#bl2)"/>
<rect x="57.1" y="507.7" width="27" height="8.6" rx="4.5" fill="#000" filter="url(#bl)"/>
<rect x="90.1" y="507.6" width="23.8" height="8.8" rx="4.6" fill="#000" filter="url(#bl)"/>
<rect x="120.3" y="508.4" width="23.4" height="7.2" rx="3.8" fill="#000" filter="url(#bl)"/>
<rect x="149.8" y="508.4" width="21.9" height="7.2" rx="3.8" fill="#000" filter="url(#bl)"/>
<rect x="178.1" y="508.3" width="25.1" height="7.4" rx="3.9" fill="#000" filter="url(#bl)"/>
<rect x="209.3" y="507.5" width="25.8" height="9" rx="4.7" fill="#000" filter="url(#bl)"/>
<rect x="239.8" y="508.7" width="26.4" height="6.6" rx="3.5" fill="#000" filter="url(#bl)"/>
<text x="10.8" y="559.7" font-size="15.8" font-weight="bold">E</text>
<line x1="75" y1="563.3" x2="75" y2="616.6" stroke="#000" stroke-width="1.8"/>
<line x1="75" y1="628" x2="75" y2="707.3" stroke="#000" stroke-width="1.8"/>
<text x="70.7" y="567.9" font-size="10.3" text-anchor="end" textLength="17.6" lengthAdjust="spacingAndGlyphs">120</text>
<text x="70.7" y="578.36" font-size="10.3" text-anchor="end" textLength="17.6" lengthAdjust="spacingAndGlyphs">110</text>
<text x="70.7" y="588.82" font-size="10.3" text-anchor="end" textLength="17.6" lengthAdjust="spacingAndGlyphs">100</text>
<text x="70.7" y="599.28" font-size="10.3" text-anchor="end" textLength="11.7" lengthAdjust="spacingAndGlyphs">90</text>
<text x="70.7" y="609.74" font-size="10.3" text-anchor="end" textLength="11.7" lengthAdjust="spacingAndGlyphs">80</text>
<text x="70.7" y="620.2" font-size="10.3" text-anchor="end" textLength="11.7" lengthAdjust="spacingAndGlyphs">70</text>
<line x1="72.4" y1="616.4" x2="77.6" y2="616.4" stroke="#000" stroke-width="1.6"/>
<line x1="72.4" y1="628.2" x2="77.6" y2="628.2" stroke="#000" stroke-width="1.6"/>
<line x1="71.8" y1="706.4" x2="75" y2="706.4" stroke="#000" stroke-width="1.4"/>
<text x="70.5" y="710" font-size="10.3" text-anchor="end">0</text>
<line x1="71.8" y1="690.76" x2="75" y2="690.76" stroke="#000" stroke-width="1.4"/>
<text x="70.5" y="694.36" font-size="10.3" text-anchor="end">1</text>
<line x1="71.8" y1="675.12" x2="75" y2="675.12" stroke="#000" stroke-width="1.4"/>
<text x="70.5" y="678.72" font-size="10.3" text-anchor="end">2</text>
<line x1="71.8" y1="659.48" x2="75" y2="659.48" stroke="#000" stroke-width="1.4"/>
<text x="70.5" y="663.08" font-size="10.3" text-anchor="end">3</text>
<line x1="71.8" y1="643.84" x2="75" y2="643.84" stroke="#000" stroke-width="1.4"/>
<text x="70.5" y="647.44" font-size="10.3" text-anchor="end">4</text>
<line x1="71.8" y1="628.2" x2="75" y2="628.2" stroke="#000" stroke-width="1.4"/>
<text x="70.5" y="631.8" font-size="10.3" text-anchor="end">5</text>
<line x1="74.1" y1="706.4" x2="248.5" y2="706.4" stroke="#000" stroke-width="1.8"/>
<text x="29.2" y="635" font-size="10.6" text-anchor="middle" textLength="71.3" lengthAdjust="spacingAndGlyphs" transform="rotate(-90 29.2 635)" style="stroke-width:0.38px">Intracellular L-Gln</text>
<text x="44.6" y="633.6" font-size="10.6" text-anchor="middle" textLength="50.3" lengthAdjust="spacingAndGlyphs" transform="rotate(-90 44.6 633.6)" style="stroke-width:0.38px">% of control</text>
<rect x="79.8" y="584.6" width="16.2" height="31.4" fill="#f4b9e6"/>
<rect x="79.8" y="628.3" width="16.2" height="78.1" fill="#f4b9e6"/>
<polyline points="79.8,616 79.8,584.6 96,584.6 96,616" stroke="#000" stroke-width="1.4" fill="none"/>
<polyline points="79.8,628.3 79.8,706.4" stroke="#000" stroke-width="1.4" fill="none"/>
<polyline points="96,628.3 96,706.4" stroke="#000" stroke-width="1.4" fill="none"/>
<rect x="103.7" y="675.4" width="17.3" height="31" fill="#cdf8c5" stroke="#000" stroke-width="1.4"/>
<rect x="128.7" y="673.2" width="16.5" height="33.2" fill="#d9cbf4" stroke="#000" stroke-width="1.4"/>
<rect x="153.4" y="680.5" width="17.3" height="25.9" fill="#cdf8c5" stroke="#000" stroke-width="1.4"/>
<rect x="178.1" y="681.8" width="16.8" height="24.6" fill="#d9cbf4" stroke="#000" stroke-width="1.4"/>
<rect x="202.3" y="681.6" width="17.8" height="24.8" fill="#cdf8c5" stroke="#000" stroke-width="1.4"/>
<rect x="227.2" y="692.7" width="17.3" height="13.7" fill="#d9cbf4" stroke="#000" stroke-width="1.4"/>
<line x1="88" y1="706.4" x2="88" y2="708.9" stroke="#000" stroke-width="1.1"/>
<line x1="112.4" y1="706.4" x2="112.4" y2="708.9" stroke="#000" stroke-width="1.1"/>
<line x1="137" y1="706.4" x2="137" y2="708.9" stroke="#000" stroke-width="1.1"/>
<line x1="162" y1="706.4" x2="162" y2="708.9" stroke="#000" stroke-width="1.1"/>
<line x1="186.5" y1="706.4" x2="186.5" y2="708.9" stroke="#000" stroke-width="1.1"/>
<line x1="211.2" y1="706.4" x2="211.2" y2="708.9" stroke="#000" stroke-width="1.1"/>
<line x1="235.9" y1="706.4" x2="235.9" y2="708.9" stroke="#000" stroke-width="1.1"/>
<line x1="87.6" y1="570.7" x2="87.6" y2="599.5" stroke="#000" stroke-width="1.3"/>
<line x1="83.6" y1="570.7" x2="91.6" y2="570.7" stroke="#000" stroke-width="1.3"/>
<line x1="83.6" y1="599.5" x2="91.6" y2="599.5" stroke="#000" stroke-width="1.3"/>
<line x1="112.3" y1="662.3" x2="112.3" y2="689.5" stroke="#000" stroke-width="1.3"/>
<line x1="108.2" y1="662.3" x2="116.4" y2="662.3" stroke="#000" stroke-width="1.3"/>
<line x1="108.2" y1="689.5" x2="116.4" y2="689.5" stroke="#000" stroke-width="1.3"/>
<line x1="136.5" y1="652" x2="136.5" y2="692.9" stroke="#000" stroke-width="1.3"/>
<line x1="132.4" y1="652" x2="140.6" y2="652" stroke="#000" stroke-width="1.3"/>
<line x1="132.4" y1="692.9" x2="140.6" y2="692.9" stroke="#000" stroke-width="1.3"/>
<line x1="162" y1="669.6" x2="162" y2="692" stroke="#000" stroke-width="1.3"/>
<line x1="157.9" y1="669.6" x2="166.1" y2="669.6" stroke="#000" stroke-width="1.3"/>
<line x1="157.9" y1="692" x2="166.1" y2="692" stroke="#000" stroke-width="1.3"/>
<line x1="186.5" y1="663.8" x2="186.5" y2="700" stroke="#000" stroke-width="1.3"/>
<line x1="182.4" y1="663.8" x2="190.6" y2="663.8" stroke="#000" stroke-width="1.3"/>
<line x1="182.4" y1="700" x2="190.6" y2="700" stroke="#000" stroke-width="1.3"/>
<line x1="211.2" y1="670.8" x2="211.2" y2="692.5" stroke="#000" stroke-width="1.3"/>
<line x1="207.1" y1="670.8" x2="215.3" y2="670.8" stroke="#000" stroke-width="1.3"/>
<line x1="207.1" y1="692.5" x2="215.3" y2="692.5" stroke="#000" stroke-width="1.3"/>
<line x1="236" y1="683.5" x2="236" y2="701.5" stroke="#000" stroke-width="1.3"/>
<line x1="231.9" y1="683.5" x2="240.1" y2="683.5" stroke="#000" stroke-width="1.3"/>
<line x1="231.9" y1="701.5" x2="240.1" y2="701.5" stroke="#000" stroke-width="1.3"/>
<circle cx="87.5" cy="564.6" r="2" fill="#000"/>
<circle cx="87.5" cy="569.5" r="2" fill="#fff" stroke="#000" stroke-width="1.2"/>
<circle cx="86.7" cy="577.3" r="2" fill="#fff" stroke="#000" stroke-width="1.2"/>
<circle cx="88.7" cy="577.6" r="2" fill="#fff" stroke="#000" stroke-width="1.2"/>
<circle cx="90.3" cy="580.2" r="2" fill="#fff" stroke="#000" stroke-width="1.2"/>
<circle cx="82.4" cy="584.1" r="2" fill="#fff" stroke="#000" stroke-width="1.2"/>
<circle cx="84.8" cy="586.3" r="2" fill="#000"/>
<circle cx="90.3" cy="590.1" r="2" fill="#fff" stroke="#000" stroke-width="1.2"/>
<circle cx="90.3" cy="604.3" r="2" fill="#000"/>
<circle cx="85" cy="607.6" r="2" fill="#fff" stroke="#000" stroke-width="1.2"/>
<circle cx="112.3" cy="650.1" r="2" fill="#fff" stroke="#000" stroke-width="1.2"/>
<circle cx="112.3" cy="656.8" r="2" fill="#fff" stroke="#000" stroke-width="1.2"/>
<circle cx="112.3" cy="672.2" r="2" fill="#000"/>
<circle cx="105.6" cy="679.4" r="2" fill="#000"/>
<circle cx="118.8" cy="679.4" r="2" fill="#000"/>
<circle cx="110.1" cy="683.3" r="2" fill="#000"/>
<circle cx="112.5" cy="683.8" r="2" fill="#000"/>
<circle cx="115.4" cy="684.2" r="2" fill="#fff" stroke="#000" stroke-width="1.2"/>
<circle cx="109.6" cy="690" r="2" fill="#fff" stroke="#000" stroke-width="1.2"/>
<circle cx="114.4" cy="688.6" r="2" fill="#fff" stroke="#000" stroke-width="1.2"/>
<circle cx="134.1" cy="648.8" r="2" fill="#fff" stroke="#000" stroke-width="1.2"/>
<circle cx="139.9" cy="653.5" r="2" fill="#fff" stroke="#000" stroke-width="1.2"/>
<circle cx="136.5" cy="670.6" r="2" fill="#fff" stroke="#000" stroke-width="1.2"/>
<circle cx="137" cy="684.7" r="2" fill="#fff" stroke="#000" stroke-width="1.2"/>
<circle cx="130.8" cy="688" r="2" fill="#000"/>
<circle cx="142.8" cy="687.8" r="2" fill="#fff" stroke="#000" stroke-width="1.2"/>
<circle cx="134.6" cy="692.4" r="2" fill="#000"/>
<circle cx="137" cy="691.9" r="2" fill="#000"/>
<circle cx="161.5" cy="659.7" r="2" fill="#fff" stroke="#000" stroke-width="1.2"/>
<circle cx="161.9" cy="677.2" r="2" fill="#fff" stroke="#000" stroke-width="1.2"/>
<circle cx="167.7" cy="676.1" r="2" fill="#fff" stroke="#000" stroke-width="1.2"/>
<circle cx="156.2" cy="688.8" r="2" fill="#000"/>
<circle cx="160.8" cy="689.9" r="2" fill="#000"/>
<circle cx="167.7" cy="688.1" r="2" fill="#000"/>
<circle cx="162" cy="684" r="2" fill="#fff" stroke="#000" stroke-width="1.2"/>
<circle cx="181.1" cy="668" r="2" fill="#fff" stroke="#000" stroke-width="1.2"/>
<circle cx="187.3" cy="665.7" r="2" fill="#fff" stroke="#000" stroke-width="1.2"/>
<circle cx="191.9" cy="668" r="2" fill="#fff" stroke="#000" stroke-width="1.2"/>
<circle cx="186.2" cy="680" r="2" fill="#000"/>
<circle cx="182.7" cy="696.2" r="2" fill="#000"/>
<circle cx="188.5" cy="697.3" r="2" fill="#000"/>
<circle cx="191.9" cy="694.3" r="2" fill="#fff" stroke="#000" stroke-width="1.2"/>
<circle cx="183.4" cy="701.9" r="2" fill="#000"/>
<circle cx="210.4" cy="668.5" r="2" fill="#000"/>
<circle cx="205.8" cy="674.9" r="2" fill="#fff" stroke="#000" stroke-width="1.2"/>
<circle cx="213.4" cy="674.2" r="2" fill="#fff" stroke="#000" stroke-width="1.2"/>
<circle cx="209.2" cy="680.5" r="2" fill="#fff" stroke="#000" stroke-width="1.2"/>
<circle cx="205.1" cy="687.6" r="2" fill="#000"/>
<circle cx="210.4" cy="688.5" r="2" fill="#000"/>
<circle cx="217.3" cy="687.6" r="2" fill="#000"/>
<circle cx="209.2" cy="692.7" r="2" fill="#fff" stroke="#000" stroke-width="1.2"/>
<circle cx="231.2" cy="682.8" r="2" fill="#fff" stroke="#000" stroke-width="1.2"/>
<circle cx="238.1" cy="681.9" r="2" fill="#fff" stroke="#000" stroke-width="1.2"/>
<circle cx="238.1" cy="688.8" r="2" fill="#fff" stroke="#000" stroke-width="1.2"/>
<circle cx="235.1" cy="693.9" r="2" fill="#000"/>
<circle cx="231.2" cy="698.5" r="2" fill="#fff" stroke="#000" stroke-width="1.2"/>
<circle cx="239.2" cy="699.6" r="2" fill="#000"/>
<circle cx="234.6" cy="701.9" r="2" fill="#000"/>
<circle cx="241" cy="697" r="2" fill="#fff" stroke="#000" stroke-width="1.2"/>
<text x="211.3" y="662.7" font-size="10.5" text-anchor="middle" textLength="11" lengthAdjust="spacingAndGlyphs">ns</text>
<text x="220.2" y="643.8" font-size="13" text-anchor="middle" style="stroke-width:0.4px">#</text>
<text x="229.2" y="643.8" font-size="13" text-anchor="middle" style="stroke-width:0.4px">#</text>
<line x1="211.4" y1="646.1" x2="236.4" y2="646.1" stroke="#000" stroke-width="1.6"/>
<line x1="211.4" y1="642.3" x2="211.4" y2="649.7" stroke="#000" stroke-width="1.6"/>
<line x1="236.4" y1="642.3" x2="236.4" y2="649.7" stroke="#000" stroke-width="1.6"/>
<text x="234.9" y="676" font-size="9.5" text-anchor="middle" textLength="8.7" lengthAdjust="spacingAndGlyphs">**</text>
<text x="91" y="716.8" font-size="12.6" text-anchor="end" transform="rotate(-45 91 716.8)">Control</text>
<text x="115.4" y="716.8" font-size="12.6" text-anchor="end" transform="rotate(-45 115.4 716.8)">A 6h</text>
<text x="140" y="716.8" font-size="12.6" text-anchor="end" transform="rotate(-45 140 716.8)">AM 6h</text>
<text x="165" y="716.8" font-size="12.6" text-anchor="end" transform="rotate(-45 165 716.8)">A 24h</text>
<text x="189.5" y="716.8" font-size="12.6" text-anchor="end" transform="rotate(-45 189.5 716.8)">AM 24h</text>
<text x="214.2" y="716.8" font-size="12.6" text-anchor="end" transform="rotate(-45 214.2 716.8)">A 48h</text>
<text x="238.9" y="716.8" font-size="12.6" text-anchor="end" transform="rotate(-45 238.9 716.8)">AM 48h</text>
<text x="268.7" y="559.7" font-size="15.8" font-weight="bold">F</text>
<line x1="328.6" y1="558.3" x2="328.6" y2="613.3" stroke="#000" stroke-width="1.8"/>
<line x1="328.6" y1="626.2" x2="328.6" y2="709" stroke="#000" stroke-width="1.8"/>
<line x1="325.4" y1="558.4" x2="328.6" y2="558.4" stroke="#000" stroke-width="1.4"/>
<text x="324.4" y="562" font-size="10.3" text-anchor="end" textLength="18" lengthAdjust="spacingAndGlyphs">120</text>
<line x1="325.4" y1="569.36" x2="328.6" y2="569.36" stroke="#000" stroke-width="1.4"/>
<text x="324.4" y="572.96" font-size="10.3" text-anchor="end" textLength="18" lengthAdjust="spacingAndGlyphs">110</text>
<line x1="325.4" y1="580.32" x2="328.6" y2="580.32" stroke="#000" stroke-width="1.4"/>
<text x="324.4" y="583.92" font-size="10.3" text-anchor="end" textLength="18" lengthAdjust="spacingAndGlyphs">100</text>
<line x1="325.4" y1="591.28" x2="328.6" y2="591.28" stroke="#000" stroke-width="1.4"/>
<text x="324.4" y="594.88" font-size="10.3" text-anchor="end" textLength="11.9" lengthAdjust="spacingAndGlyphs">90</text>
<line x1="325.4" y1="602.24" x2="328.6" y2="602.24" stroke="#000" stroke-width="1.4"/>
<text x="324.4" y="605.84" font-size="10.3" text-anchor="end" textLength="11.9" lengthAdjust="spacingAndGlyphs">80</text>
<line x1="325.4" y1="613.2" x2="328.6" y2="613.2" stroke="#000" stroke-width="1.4"/>
<text x="324.4" y="616.8" font-size="10.3" text-anchor="end" textLength="11.9" lengthAdjust="spacingAndGlyphs">70</text>
<line x1="326" y1="626.4" x2="331.2" y2="626.4" stroke="#000" stroke-width="1.6"/>
<line x1="325.4" y1="708.1" x2="328.6" y2="708.1" stroke="#000" stroke-width="1.4"/>
<text x="324.4" y="711.7" font-size="10.3" text-anchor="end">0</text>
<line x1="325.4" y1="691.8" x2="328.6" y2="691.8" stroke="#000" stroke-width="1.4"/>
<text x="324.4" y="695.4" font-size="10.3" text-anchor="end">1</text>
<line x1="325.4" y1="675.5" x2="328.6" y2="675.5" stroke="#000" stroke-width="1.4"/>
<text x="324.4" y="679.1" font-size="10.3" text-anchor="end">2</text>
<line x1="325.4" y1="659.2" x2="328.6" y2="659.2" stroke="#000" stroke-width="1.4"/>
<text x="324.4" y="662.8" font-size="10.3" text-anchor="end">3</text>
<line x1="325.4" y1="642.9" x2="328.6" y2="642.9" stroke="#000" stroke-width="1.4"/>
<text x="324.4" y="646.5" font-size="10.3" text-anchor="end">4</text>
<text x="324.4" y="630" font-size="10.3" text-anchor="end">5</text>
<line x1="327.7" y1="708.1" x2="511.5" y2="708.1" stroke="#000" stroke-width="1.8"/>
<text x="294.4" y="625.4" font-size="10.6" text-anchor="middle" textLength="116.8" lengthAdjust="spacingAndGlyphs" transform="rotate(-90 294.4 625.4)" style="stroke-width:0.38px">Intracellular L-Gln % of control</text>
<rect x="333.1" y="580" width="16.4" height="33.5" fill="#f4b9e6"/>
<rect x="333.1" y="626.5" width="16.4" height="81.6" fill="#f4b9e6"/>
<polyline points="333.1,613.5 333.1,580 349.5,580 349.5,613.5" stroke="#000" stroke-width="1.4" fill="none"/>
<polyline points="333.1,626.5 333.1,708.1" stroke="#000" stroke-width="1.4" fill="none"/>
<polyline points="349.5,626.5 349.5,708.1" stroke="#000" stroke-width="1.4" fill="none"/>
<rect x="365.2" y="696.2" width="16.2" height="11.9" fill="#cdf8c5" stroke="#000" stroke-width="1.4"/>
<rect x="385.7" y="698.9" width="16.3" height="9.2" fill="#d9cbf4" stroke="#000" stroke-width="1.4"/>
<rect x="417.3" y="683.2" width="17.2" height="24.9" fill="#cdf8c5" stroke="#000" stroke-width="1.4"/>
<rect x="437.7" y="702.2" width="16.9" height="5.9" fill="#d9cbf4" stroke="#000" stroke-width="1.4"/>
<rect x="470.4" y="669" width="16.3" height="39.1" fill="#cdf8c5" stroke="#000" stroke-width="1.4"/>
<rect x="489.9" y="702.6" width="16.9" height="5.5" fill="#d9cbf4" stroke="#000" stroke-width="1.4"/>
<line x1="341.3" y1="708.1" x2="341.3" y2="710.6" stroke="#000" stroke-width="1.1"/>
<line x1="373.3" y1="708.1" x2="373.3" y2="710.6" stroke="#000" stroke-width="1.1"/>
<line x1="393.8" y1="708.1" x2="393.8" y2="710.6" stroke="#000" stroke-width="1.1"/>
<line x1="425.9" y1="708.1" x2="425.9" y2="710.6" stroke="#000" stroke-width="1.1"/>
<line x1="446.1" y1="708.1" x2="446.1" y2="710.6" stroke="#000" stroke-width="1.1"/>
<line x1="478.5" y1="708.1" x2="478.5" y2="710.6" stroke="#000" stroke-width="1.1"/>
<line x1="498.3" y1="708.1" x2="498.3" y2="710.6" stroke="#000" stroke-width="1.1"/>
<line x1="341.1" y1="570.8" x2="341.1" y2="588.6" stroke="#000" stroke-width="1.3"/>
<line x1="337.1" y1="570.8" x2="345.1" y2="570.8" stroke="#000" stroke-width="1.3"/>
<line x1="337.1" y1="588.6" x2="345.1" y2="588.6" stroke="#000" stroke-width="1.3"/>
<line x1="478.2" y1="655.5" x2="478.2" y2="683" stroke="#000" stroke-width="1.3"/>
<line x1="474.3" y1="655.5" x2="482.1" y2="655.5" stroke="#000" stroke-width="1.3"/>
<line x1="474.3" y1="683" x2="482.1" y2="683" stroke="#000" stroke-width="1.3"/>
<circle cx="341.3" cy="559.8" r="1.95" fill="#000"/>
<circle cx="347.5" cy="572.9" r="1.95" fill="#fff" stroke="#000" stroke-width="1.2"/>
<circle cx="335" cy="575.9" r="1.95" fill="#fff" stroke="#000" stroke-width="1.2"/>
<circle cx="339" cy="578.4" r="1.95" fill="#fff" stroke="#000" stroke-width="1.2"/>
<circle cx="342.8" cy="578" r="1.95" fill="#fff" stroke="#000" stroke-width="1.2"/>
<circle cx="341.1" cy="584.4" r="1.95" fill="#000"/>
<circle cx="336" cy="588.6" r="1.95" fill="#000"/>
<circle cx="346.6" cy="589.7" r="1.95" fill="#fff" stroke="#000" stroke-width="1.2"/>
<circle cx="341.1" cy="593.3" r="1.95" fill="#000"/>
<circle cx="345" cy="582" r="1.95" fill="#fff" stroke="#000" stroke-width="1.2"/>
<circle cx="478.2" cy="637" r="1.95" fill="#fff" stroke="#000" stroke-width="1.2"/>
<circle cx="475.5" cy="660" r="1.95" fill="#000"/>
<circle cx="481.4" cy="660.8" r="1.95" fill="#fff" stroke="#000" stroke-width="1.2"/>
<circle cx="472.8" cy="664.8" r="1.95" fill="#fff" stroke="#000" stroke-width="1.2"/>
<circle cx="483.5" cy="666.1" r="1.95" fill="#fff" stroke="#000" stroke-width="1.2"/>
<circle cx="478.2" cy="669" r="1.95" fill="#000"/>
<circle cx="475.5" cy="676.8" r="1.95" fill="#000"/>
<circle cx="481.2" cy="678.1" r="1.95" fill="#fff" stroke="#000" stroke-width="1.2"/>
<circle cx="473.4" cy="681.9" r="1.95" fill="#fff" stroke="#000" stroke-width="1.2"/>
<circle cx="483.5" cy="682.4" r="1.95" fill="#000"/>
<circle cx="478.2" cy="686.1" r="1.95" fill="#fff" stroke="#000" stroke-width="1.2"/>
<circle cx="428.3" cy="674.5" r="1.95" fill="#000"/>
<circle cx="423" cy="676.2" r="1.95" fill="#fff" stroke="#000" stroke-width="1.2"/>
<circle cx="430.7" cy="679.5" r="1.95" fill="#000"/>
<circle cx="427.8" cy="680" r="1.95" fill="#000"/>
<circle cx="420.1" cy="680.3" r="1.95" fill="#000"/>
<circle cx="424.4" cy="682.4" r="1.95" fill="#000"/>
<circle cx="419.6" cy="687.7" r="1.95" fill="#fff" stroke="#000" stroke-width="1.2"/>
<circle cx="422.5" cy="686.3" r="1.95" fill="#000"/>
<circle cx="426.8" cy="686.8" r="1.95" fill="#fff" stroke="#000" stroke-width="1.2"/>
<circle cx="430.7" cy="687.7" r="1.95" fill="#000"/>
<circle cx="432.1" cy="688.2" r="1.95" fill="#fff" stroke="#000" stroke-width="1.2"/>
<circle cx="423.9" cy="692.5" r="1.95" fill="#000"/>
<circle cx="425.5" cy="684" r="1.95" fill="#000"/>
<circle cx="367.5" cy="692.6" r="1.95" fill="#fff" stroke="#000" stroke-width="1.2"/>
<circle cx="371" cy="694" r="1.95" fill="#000"/>
<circle cx="374" cy="695.5" r="1.95" fill="#000"/>
<circle cx="377" cy="694" r="1.95" fill="#000"/>
<circle cx="380" cy="692.8" r="1.95" fill="#fff" stroke="#000" stroke-width="1.2"/>
<circle cx="369" cy="696.5" r="1.95" fill="#000"/>
<circle cx="372.5" cy="698.5" r="1.95" fill="#000"/>
<circle cx="375.5" cy="698.5" r="1.95" fill="#000"/>
<circle cx="379" cy="696.8" r="1.95" fill="#000"/>
<circle cx="371.5" cy="701" r="1.95" fill="#fff" stroke="#000" stroke-width="1.2"/>
<circle cx="374" cy="702.5" r="1.95" fill="#000"/>
<circle cx="376.5" cy="701" r="1.95" fill="#000"/>
<circle cx="373.5" cy="696" r="1.95" fill="#000"/>
<circle cx="390.6" cy="694.1" r="1.95" fill="#000"/>
<circle cx="399" cy="695.1" r="1.95" fill="#000"/>
<circle cx="388" cy="698.5" r="1.95" fill="#000"/>
<circle cx="391.5" cy="700" r="1.95" fill="#000"/>
<circle cx="394" cy="701.5" r="1.95" fill="#000"/>
<circle cx="397" cy="700.5" r="1.95" fill="#000"/>
<circle cx="400" cy="698.7" r="1.95" fill="#000"/>
<circle cx="393.8" cy="704" r="1.95" fill="#000"/>
<circle cx="396" cy="697.8" r="1.95" fill="#fff" stroke="#000" stroke-width="1.2"/>
<circle cx="391" cy="697.5" r="1.95" fill="#fff" stroke="#000" stroke-width="1.2"/>
<circle cx="440" cy="700" r="1.95" fill="#000"/>
<circle cx="443" cy="701.5" r="1.95" fill="#000"/>
<circle cx="446" cy="702.5" r="1.95" fill="#000"/>
<circle cx="449" cy="701.5" r="1.95" fill="#000"/>
<circle cx="452" cy="700" r="1.95" fill="#000"/>
<circle cx="445" cy="705" r="1.95" fill="#000"/>
<circle cx="447.5" cy="704.5" r="1.95" fill="#000"/>
<circle cx="442" cy="703" r="1.95" fill="#fff" stroke="#000" stroke-width="1.2"/>
<circle cx="450.5" cy="703.5" r="1.95" fill="#fff" stroke="#000" stroke-width="1.2"/>
<circle cx="492.8" cy="701.5" r="1.95" fill="#000"/>
<circle cx="495.2" cy="700" r="1.95" fill="#000"/>
<circle cx="498" cy="698.8" r="1.95" fill="#000"/>
<circle cx="501" cy="699.5" r="1.95" fill="#fff" stroke="#000" stroke-width="1.2"/>
<circle cx="503.8" cy="701.5" r="1.95" fill="#000"/>
<circle cx="496" cy="703" r="1.95" fill="#000"/>
<circle cx="499" cy="703.5" r="1.95" fill="#000"/>
<circle cx="502" cy="703" r="1.95" fill="#000"/>
<circle cx="498.5" cy="705.5" r="1.95" fill="#fff" stroke="#000" stroke-width="1.2"/>
<rect x="373.8" y="581.3" width="9.6" height="8.8" fill="#cdf8c5" stroke="#000" stroke-width="1.4"/>
<rect x="373.8" y="594" width="9.6" height="8.8" fill="#d9cbf4" stroke="#000" stroke-width="1.4"/>
<text x="386" y="589" font-size="10" textLength="32" lengthAdjust="spacingAndGlyphs">– MSO</text>
<text x="386" y="601.6" font-size="10" textLength="32.6" lengthAdjust="spacingAndGlyphs">+ MSO</text>
<text x="482.5" y="588.2" font-size="13" text-anchor="middle" style="stroke-width:0.4px">#</text>
<text x="491.3" y="588.2" font-size="13" text-anchor="middle" style="stroke-width:0.4px">#</text>
<text x="500.1" y="588.2" font-size="13" text-anchor="middle" style="stroke-width:0.4px">#</text>
<line x1="474.8" y1="591.8" x2="507.8" y2="591.8" stroke="#000" stroke-width="1.7"/>
<line x1="474.8" y1="587.7" x2="474.8" y2="596.2" stroke="#000" stroke-width="1.7"/>
<line x1="507.8" y1="587.7" x2="507.8" y2="596.2" stroke="#000" stroke-width="1.7"/>
<text x="475.3" y="622.8" font-size="9.5" text-anchor="middle" textLength="14.4" lengthAdjust="spacingAndGlyphs">***</text>
<text x="498.4" y="684.7" font-size="9.5" text-anchor="middle" textLength="14" lengthAdjust="spacingAndGlyphs">***</text>
<text x="345.9" y="721.5" font-size="12.6" text-anchor="end" transform="rotate(-58 345.9 721.5)">Control</text>
<text x="388.2" y="721.5" font-size="12.6" text-anchor="end" transform="rotate(-58 388.2 721.5)">6h</text>
<text x="440.2" y="718" font-size="12.6" text-anchor="end" transform="rotate(-58 440.2 718)">24h</text>
<text x="495.1" y="718" font-size="12.6" text-anchor="end" transform="rotate(-58 495.1 718)">48h</text>
<rect x="1" y="1" width="518" height="764" fill="none" stroke="#000" stroke-width="2.2"/>
</svg>
</body></html>
